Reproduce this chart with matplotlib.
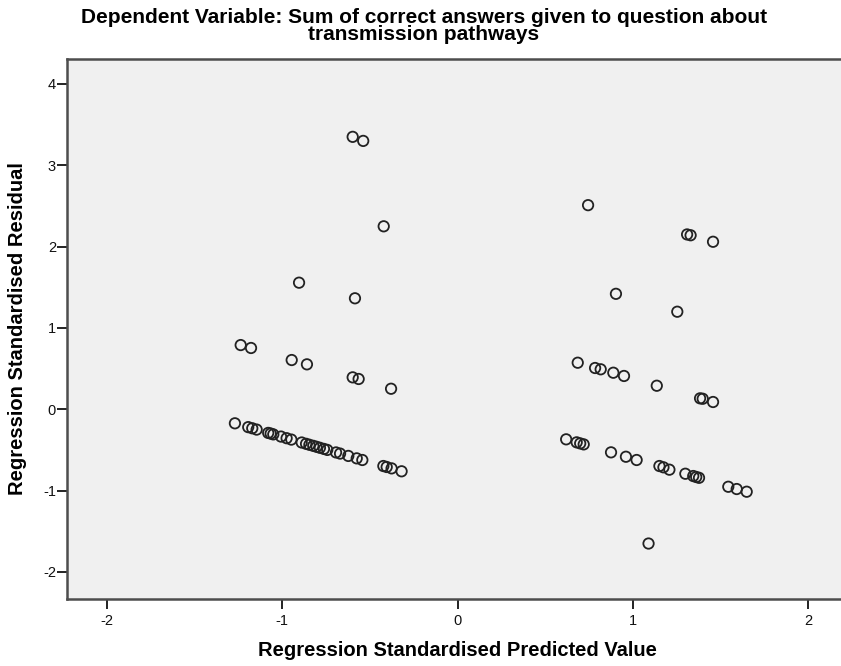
import matplotlib
matplotlib.use("Agg")
import matplotlib.pyplot as plt

# Standardised predicted values (x) and standardised residuals (y)
pred_left_low = [-1.270, -1.194, -1.171, -1.146, -1.080, -1.066, -1.051, -1.007,
                 -0.975, -0.948, -0.889, -0.864, -0.845, -0.823, -0.804, -0.785,
                 -0.762, -0.743, -0.693, -0.670, -0.623, -0.575, -0.543, -0.423,
                 -0.404, -0.376, -0.319]
resid_left_low = [-0.172, -0.219, -0.233, -0.249, -0.290, -0.298, -0.308, -0.335,
                  -0.355, -0.372, -0.408, -0.424, -0.436, -0.449, -0.461, -0.473,
                  -0.487, -0.499, -0.530, -0.544, -0.573, -0.603, -0.623, -0.697,
                  -0.709, -0.726, -0.762]

pred_left_high = [-0.598, -0.538, -0.421, -0.904, -0.585, -1.237, -1.178, -0.946,
                  -0.859, -0.598, -0.564, -0.379]
resid_left_high = [3.35, 3.30, 2.25, 1.557, 1.365, 0.79, 0.754, 0.606,
                   0.553, 0.393, 0.373, 0.253]

pred_right_low = [0.62, 0.68, 0.70, 0.72, 0.876, 0.961, 1.022, 1.152, 1.175,
                  1.209, 1.300, 1.345, 1.362, 1.378, 1.545, 1.593, 1.650, 1.09]
resid_right_low = [-0.369, -0.406, -0.419, -0.431, -0.529, -0.583, -0.623, -0.697,
                   -0.713, -0.742, -0.792, -0.820, -0.832, -0.842, -0.952, -0.980,
                   -1.013, -1.65]

pred_right_high = [0.745, 1.31, 1.33, 1.458, 0.904, 1.254, 0.686, 0.785, 0.817,
                   0.889, 0.950, 1.137, 1.384, 1.399, 1.458]
resid_right_high = [2.51, 2.15, 2.14, 2.06, 1.42, 1.20, 0.573, 0.508, 0.492,
                    0.45, 0.41, 0.29, 0.135, 0.13, 0.09]

x_ticks = [-2, -1, 0, 1, 2]
y_ticks = [-2, -1, 0, 1, 2, 3, 4]

title = ("Dependent Variable: Sum of correct answers given to question about\n"
         "transmission pathways")
x_label = "Regression Standardised Predicted Value"
y_label = "Regression Standardised Residual"

plt.rcParams["font.family"] = ["Liberation Sans", "DejaVu Sans"]

W, H = 841, 666
fig = plt.figure(figsize=(W / 100, H / 100), dpi=100)
fig.patch.set_facecolor("white")

left, right, top, bottom = 67, 848, 59, 599
ax = fig.add_axes([left / W, 1 - bottom / H, (right - left) / W, (bottom - top) / H])
ax.set_facecolor("#f0f0f0")

xs = pred_left_low + pred_left_high + pred_right_low + pred_right_high
ys = resid_left_low + resid_left_high + resid_right_low + resid_right_high
ax.scatter(xs, ys, s=56, facecolors="none", edgecolors="#222222",
           linewidths=1.3, zorder=3)

ax.set_xlim(-2.228, 2.228)
ax.set_ylim(-2.332, 4.307)
ax.set_xticks(x_ticks)
ax.set_yticks(y_ticks)
ax.set_xticklabels([str(v) for v in x_ticks])
ax.set_yticklabels([str(v) for v in y_ticks])

for side in ("left", "bottom", "top", "right"):
    ax.spines[side].set_color("#4d4d4d")
    ax.spines[side].set_linewidth(1.8)

ax.tick_params(axis="both", direction="out", color="#222222", width=1.4,
               labelsize=10.5, labelcolor="#111111")
ax.tick_params(axis="x", length=7, pad=4)
ax.tick_params(axis="y", length=7, pad=1)

fig.text(424 / W, 1 - 8 / H, title, ha="center", va="top", fontsize=15,
         fontweight="bold", linespacing=0.85)
fig.text(457 / W, 1 - 651 / H, x_label, ha="center", va="center",
         fontsize=14.5, fontweight="bold")
fig.text(18 / W, 1 - 329 / H, y_label, ha="center", va="center",
         rotation=90, fontsize=14.5, fontweight="bold")

fig.savefig("out.png", dpi=100)
